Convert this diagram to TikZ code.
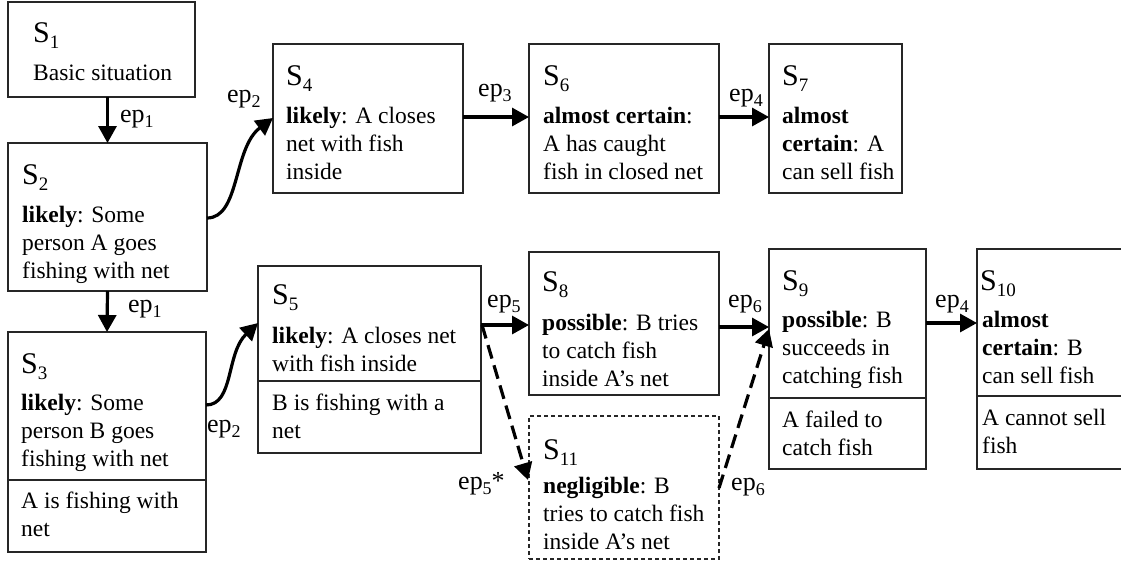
\documentclass[tikz,border=0pt]{standalone}
\usepackage{fontspec}
\setmainfont{Liberation Serif}
\usetikzlibrary{arrows.meta,calc}
\newcommand\Sl[1]{S\raisebox{-6pt}{\fontsize{19}{19}\selectfont #1}}
\newcommand\epl[1]{ep\raisebox{-5pt}{\fontsize{18}{18}\selectfont #1}}
\newcommand\tl[1]{\parbox[t]{260pt}{\raggedright #1}}
\begin{document}
\begin{tikzpicture}[x=1pt,y=-1pt,
 box/.style={draw=black!85, line width=1.3pt, anchor=north west, inner sep=0, outer sep=0},
 dbox/.style={draw=black!85, line width=1.2pt, anchor=north west, inner sep=0, outer sep=0, dash pattern=on 4pt off 3pt},
 lbl/.style={anchor=base west, inner sep=0, font=\fontsize{30}{30}\selectfont},
 txt/.style={anchor=base west, inner sep=0, font=\fontsize{23.5}{28}\selectfont},
 elab/.style={anchor=base west, inner sep=0, font=\fontsize{26}{26}\selectfont},
 arr/.style={line width=3.2pt, -{Triangle[length=17pt,width=18pt]}},
 darr/.style={arr, dash pattern=on 14pt off 7pt},
 div/.style={line width=1.8pt, draw=black!85}]
\path[use as bounding box, clip] (0,0) rectangle (1121,566);

% boxes
\node[box, minimum width=187, minimum height=95] (s1) at (8,2) {};
\node[box, minimum width=199, minimum height=148] (s2) at (8,143) {};
\node[box, minimum width=198, minimum height=220] (s3) at (8,332) {};
\node[box, minimum width=190, minimum height=149] (s4) at (273,44) {};
\node[box, minimum width=190, minimum height=149] (s6) at (529,44) {};
\node[box, minimum width=133, minimum height=149] (s7) at (769,44) {};
\node[box, minimum width=223, minimum height=187] (s5) at (258,266) {};
\node[box, minimum width=190, minimum height=143] (s8) at (529,252) {};
\node[dbox, minimum width=190, minimum height=143] (s11) at (529,416) {};
\node[box, minimum width=157, minimum height=220] (s9) at (769,249) {};
\node[box, minimum width=160, minimum height=220] (s10) at (977,249) {};

% dividers
\draw[div] ($(s3.north west)+(0,148)$) -- ($(s3.north east)+(0,148)$);
\draw[div] ($(s5.north west)+(0,115)$) -- ($(s5.north east)+(0,115)$);
\draw[div] ($(s9.north west)+(0,149)$) -- ($(s9.north east)+(0,149)$);
\draw[div] ($(s10.north west)+(0,147)$) -- ($(s10.north east)+(0,147)$);

% texts
\node[lbl] (l1) at (33,42) {\Sl{1}};
\node[txt] (t1) at (33,80) {\tl{Basic situation}};
\node[lbl] (l2) at (22,184) {\Sl{2}};
\node[txt] (t2) at (22,222) {\tl{\textbf{likely}: Some\\person A goes\\fishing with net}};
\node[lbl] (l3) at (21,373) {\Sl{3}};
\node[txt] (t3) at (21,410) {\tl{\textbf{likely}: Some\\person B goes\\fishing with net}};
\node[txt] (u3) at (21,508) {\tl{A is fishing with\\net}};
\node[lbl] (l4) at (286,85) {\Sl{4}};
\node[txt] (t4) at (286,123) {\tl{\textbf{likely}: A closes\\net with fish\\inside}};
\node[lbl] (l6) at (543,85) {\Sl{6}};
\node[txt] (t6) at (543,123) {\tl{\textbf{almost certain}:\\A has caught\\fish in closed net}};
\node[lbl] (l7) at (782,85) {\Sl{7}};
\node[txt] (t7) at (782,123) {\tl{\textbf{almost}\\\textbf{certain}: A\\can sell fish}};
\node[lbl] (l5) at (272,304) {\Sl{5}};
\node[txt] (t5) at (272,343) {\tl{\textbf{likely}: A closes net\\with fish inside}};
\node[txt] (u5) at (272,410) {\tl{B is fishing with a\\net}};
\node[lbl] (l8) at (542,291) {\Sl{8}};
\node[txt] (t8) at (542,330) {\tl{\textbf{possible}: B tries\\to catch fish\\inside A’s net}};
\node[lbl] (l9) at (782,290) {\Sl{9}};
\node[txt] (t9) at (782,327) {\tl{\textbf{possible}: B\\succeeds in\\catching fish}};
\node[txt] (u9) at (782,427) {\tl{A failed to\\catch fish}};
\node[lbl] (l10) at (980,290) {\Sl{10}};
\node[txt] (t10) at (982,327) {\tl{\textbf{almost}\\\textbf{certain}: B\\can sell fish}};
\node[txt] (u10) at (982,425) {\tl{A cannot sell\\fish}};
\node[lbl] (l11) at (543,459) {\Sl{11}};
\node[txt] (t11) at (543,493) {\tl{\textbf{negligible}: B\\tries to catch fish\\inside A’s net}};

% connectors
\draw[arr] (s1.south -| s2.north) -- (s2.north);
\draw[arr] (s2.south) -- (s3.north);
\coordinate (a2) at ($(s2.north east)+(0,75)$);
\coordinate (b4) at ($(s4.north west)+(0,74)$);
\draw[arr] (a2) .. controls ($(a2)+(33,0)$) and ($(b4)+(-40,30)$) .. (b4);
\coordinate (a3) at ($(s3.north east)+(0,73)$);
\coordinate (b5) at ($(s5.north west)+(0,57)$);
\draw[arr] (a3) .. controls ($(a3)+(28,0)$) and ($(b5)+(-32,30)$) .. (b5);
\draw[arr] ($(s4.north east)+(0,73)$) -- ($(s6.north west)+(0,73)$);
\draw[arr] ($(s6.north east)+(0,73)$) -- ($(s7.north west)+(0,73)$);
\draw[arr] ($(s5.north east)+(0,59)$) -- ($(s8.north west)+(0,73)$);
\draw[darr] ($(s5.north east)+(1,59)$) -- ($(s11.north west)+(-1,64)$);
\draw[arr] ($(s8.north east)+(0,75)$) -- ($(s9.north west)+(0,78)$);
\draw[darr] ($(s11.north east)+(0,72)$) -- ($(s9.north west)+(0,80)$);
\draw[arr] ($(s9.north east)+(0,74)$) -- ($(s10.north west)+(0,74)$);

% connector labels
\node[elab] (e1) at (120,122) {\epl{1}};
\node[elab] (e2) at (128,312) {\epl{1}};
\node[elab] (e3) at (227,102) {\epl{2}};
\node[elab] (e4) at (207,432) {\epl{2}};
\node[elab] (e5) at (478,96) {\epl{3}};
\node[elab] (e6) at (729,101) {\epl{4}};
\node[elab] (e7) at (487,307) {\epl{5}};
\node[elab] (e8) at (458,489) {\epl{5}*};
\node[elab] (e9) at (728,307) {\epl{6}};
\node[elab] (e10) at (935,307) {\epl{4}};
\node[elab] (e11) at (731,490) {\epl{6}};
\end{tikzpicture}
\end{document}
